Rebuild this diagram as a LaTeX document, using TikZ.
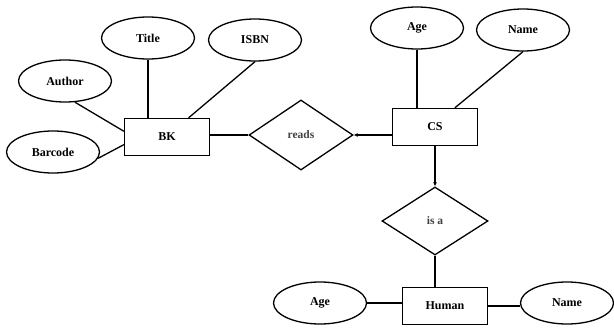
\documentclass[tikz,border=0pt]{standalone}
\usepackage{fontspec}
\setmainfont{Liberation Serif}
\usetikzlibrary{calc,positioning,arrows.meta,shapes.geometric}

\begin{document}
\begin{tikzpicture}[x=1pt,y=-1pt,line width=1.3pt,
    attr/.style={draw,ellipse,minimum width=93pt,minimum height=42pt,inner sep=0pt,font=\fontsize{12}{14}\selectfont\bfseries},
    entity/.style={draw,rectangle,minimum width=85pt,minimum height=37pt,inner sep=0pt,font=\fontsize{12}{14}\selectfont\bfseries},
    rel/.style={draw,diamond,minimum width=104pt,minimum height=70pt,inner sep=0pt,font=\fontsize{11.5}{13}\selectfont\bfseries,text=black!75},
    tip/.style={-{Latex[length=4pt,width=4pt]}}]
  \useasboundingbox (0,0) rectangle (614,329);
  % attributes
  \foreach \n/\x/\y/\t in {title/148/38/Title,isbn/255/40/ISBN,author/65/81/Author,barcode/53/152/Barcode,
                           csage/417/28/Age,csname/523/30/Name,hage/320/303/Age,hname/567/303/Name}{
    \node[attr] (\n) at (\x,\y) {\t};
  }
  % entities and relations
  \node[entity] (bk) at (167,137) {BK};
  \node[entity] (cs) at (435,127) {CS};
  \node[entity] (human) at (445,306) {Human};
  \node[rel] (reads) at (301,135) {reads};
  \node[rel,minimum width=106pt,minimum height=68pt] (isa) at (435,221) {is a};

  \draw (title.south) -- (title.south |- bk.north);
  \draw (isbn.south) -- ($(bk.north)!0.5!(bk.north east)$);
  \draw (author.-65) -- ($(bk.north west)!0.35!(bk.south west)$);
  \draw (barcode.-8) -- ($(bk.north west)!0.7!(bk.south west)$);
  \draw (bk.east |- reads.west) -- (reads.west);
  \draw[tip] (cs.west |- reads.east) -- (reads.east);
  \draw (csage.south) -- (csage.south |- cs.north);
  \draw (csname.south) -- ($(cs.north west)!0.73!(cs.north east)$);
  \draw[tip] (cs.south -| isa.north) -- (isa.north);
  \draw (isa.south) -- (isa.south |- human.north);
  \draw (hage.east) -- (hage.east -| human.west);
  \draw (human.east) -- (human.east -| hname.west);
\end{tikzpicture}
\end{document}
